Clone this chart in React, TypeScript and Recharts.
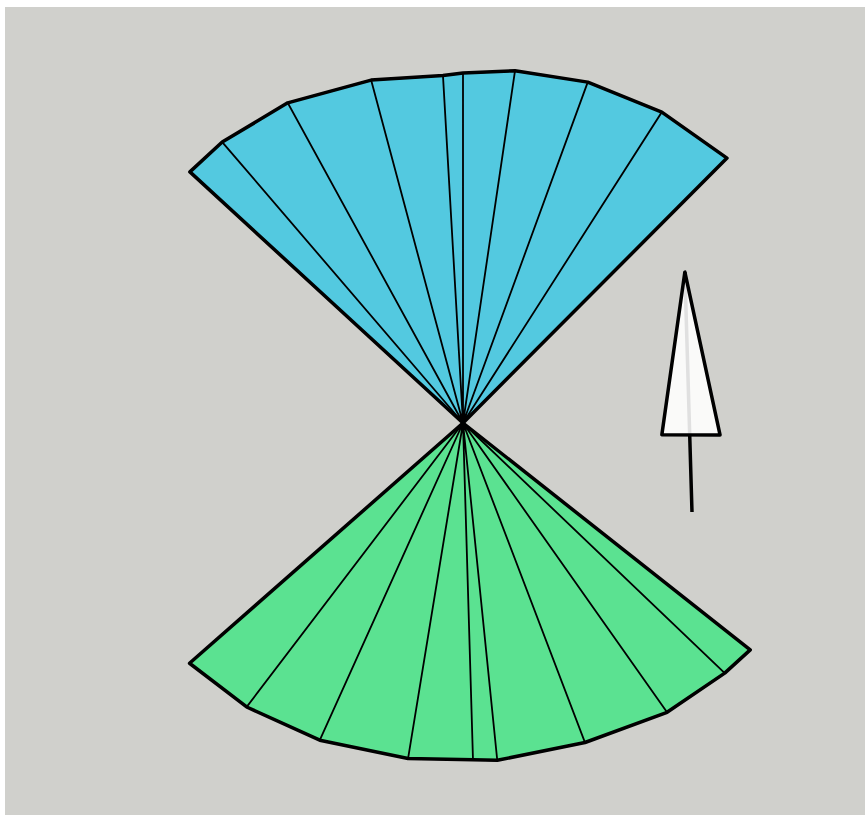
import React from 'react';
import { RadarChart, Radar, PolarAngleAxis, PolarRadiusAxis } from 'recharts';

// bearings: degrees clockwise from north, lengths: radial units (0..400)
const topBearings = [312.6, 319.4, 331.3, 345.0, 356.7, 0.0, 8.4, 20.1, 32.6, 44.9];
const topLengths = [371, 370, 365, 355, 348, 350, 356, 363, 369, 374];
const bottomBearings = [228.7, 217.3, 204.3, 189.3, 178.3, 174.2, 159.1, 144.8, 133.7, 128.3];
const bottomLengths = [364, 357, 348, 340, 337, 339, 342, 354, 362, 366];

// arrow head: tip, base left, base right (measured from the tail)
const arrowBearings = [358.3, 338.7, 20.0];
const arrowLengths = [240, 83, 82];

const W = 865;
const H = 815;

// wedges: centre -> v(i) -> v(i+1) -> centre ... ; outline repeats the vertex instead of going back to centre
const buildFan = (bearings: number[], lengths: number[], fanKey: string, lineKey: string) => {
  const rows: Record<string, number>[] = [];
  for (let i = 0; i < bearings.length - 1; i++) {
    rows.push({ bearing: bearings[i], [fanKey]: 0, [lineKey]: i === 0 ? 0 : lengths[i] });
    rows.push({ bearing: bearings[i], [fanKey]: lengths[i], [lineKey]: lengths[i] });
    rows.push({ bearing: bearings[i + 1], [fanKey]: lengths[i + 1], [lineKey]: lengths[i + 1] });
  }
  return rows;
};

const fanKeys = ['topFan', 'topLine', 'bottomFan', 'bottomLine'];
const fanData = [
  ...buildFan(topBearings, topLengths, 'topFan', 'topLine'),
  ...buildFan(bottomBearings, bottomLengths, 'bottomFan', 'bottomLine'),
].map((row) => {
  const full: Record<string, number> = { ...row };
  fanKeys.forEach((k) => {
    if (full[k] === undefined) full[k] = 0;
  });
  return full;
});

const arrowData = arrowBearings.map((b, i) => ({
  bearing: b,
  head: arrowLengths[i],
  stem: i === 0 ? arrowLengths[i] : 0,
}));

const axes = (
  <>
    <PolarAngleAxis dataKey="bearing" type="number" domain={[0, 360]} tickCount={5} tick={false} axisLine={false} />
    <PolarRadiusAxis type="number" domain={[0, 400]} tickCount={5} tick={false} axisLine={false} />
  </>
);

const noMargin = { top: 0, right: 0, bottom: 0, left: 0 };

export default function App() {
  return (
    <div style={{ position: 'absolute', left: 0, top: 0, width: W, height: H, background: '#fff', overflow: 'hidden' }}>
      <div style={{ position: 'absolute', left: 5, top: 7, right: 0, bottom: 0, background: '#d0d0cc' }} />
      <div style={{ position: 'absolute', left: 0, top: 0 }}>
        <RadarChart width={W} height={H} data={fanData} cx={463} cy={423} outerRadius={400} margin={noMargin}>
          {axes}
          <Radar dataKey="topFan" fill="#53c9e0" fillOpacity={1} stroke="#000" strokeWidth={1.8} isAnimationActive={false} />
          <Radar dataKey="topLine" fill="none" stroke="#000" strokeWidth={3.5} strokeLinejoin="round" isAnimationActive={false} />
          <Radar dataKey="bottomFan" fill="#5be291" fillOpacity={1} stroke="#000" strokeWidth={1.8} isAnimationActive={false} />
          <Radar dataKey="bottomLine" fill="none" stroke="#000" strokeWidth={3.5} strokeLinejoin="round" isAnimationActive={false} />
        </RadarChart>
      </div>
      <div style={{ position: 'absolute', left: 0, top: 0 }}>
        <RadarChart width={W} height={H} data={arrowData} cx={692} cy={512} outerRadius={400} margin={noMargin}>
          {axes}
          <Radar dataKey="stem" fill="none" stroke="#000" strokeWidth={3.5} isAnimationActive={false} />
          <Radar dataKey="head" fill="#fff" fillOpacity={0.88} stroke="#000" strokeWidth={3.5} strokeLinejoin="round" isAnimationActive={false} />
        </RadarChart>
      </div>
    </div>
  );
}
